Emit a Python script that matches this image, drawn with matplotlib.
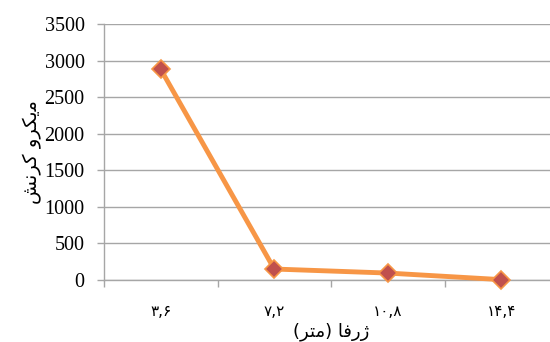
import matplotlib
matplotlib.use('Agg')
from matplotlib import pyplot as plt

# data
depth_labels = ['۳,۶', '۷,۲', '۱۰,۸', '۱۴,۴']
strain = [2880, 150, 95, 5]
y_ticks = [0, 500, 1000, 1500, 2000, 2500, 3000, 3500]

# Persian labels written as presentation forms in visual order (matplotlib does no shaping)
xlabel_txt = '(\uFEAE\uFE98\uFEE3) \uFE8E\uFED3\uFEAD\uFB8A'      # ژرفا (متر)
ylabel_txt = '\uFEB6\uFEE7\uFEAE\uFB90 \uFEED\uFEAE\uFB91\uFBFE\uFEE3'  # میکرو کرنش

fig = plt.figure(figsize=(5.5, 3.42), dpi=100)
ax = fig.add_axes([104/550, 62/342, 454/550, 256/342])

x = list(range(len(strain)))
ax.plot(x, strain, color='#F79646', linewidth=3.5, marker='D', markersize=9,
        markerfacecolor='#C0504D', markeredgecolor='#F79646', markeredgewidth=1.2,
        zorder=3, clip_on=False)

ax.set_xlim(-0.5, 3.5)
ax.set_ylim(0, 3500)
ax.set_yticks(y_ticks)
ax.set_yticklabels([str(v) for v in y_ticks], family=['Liberation Serif', 'DejaVu Sans'], fontsize=14.5)
ax.yaxis.grid(True, color='#A6A6A6', linewidth=1.0)
ax.set_axisbelow(True)

ax.set_xticks([-0.5, 0.5, 1.5, 2.5, 3.5])
ax.set_xticklabels([])
ax.set_xticks(x, minor=True)
ax.set_xticklabels(depth_labels, minor=True, family=['DejaVu Sans'], fontsize=11)
ax.tick_params(axis='x', which='minor', length=0, pad=17)
ax.tick_params(axis='x', which='major', length=5, color='#A6A6A6', width=1)
ax.tick_params(axis='y', length=5, color='#A6A6A6', width=1, pad=9)

for s in ['top', 'right']:
    ax.spines[s].set_visible(False)
for s in ['left', 'bottom']:
    ax.spines[s].set_color('#A6A6A6')
    ax.spines[s].set_linewidth(1)

ax.set_xlabel(xlabel_txt, family=['DejaVu Sans'], fontsize=13, labelpad=3)
ax.set_ylabel(ylabel_txt, family=['DejaVu Sans'], fontsize=14, labelpad=2)

plt.savefig('out.png', dpi=100)
